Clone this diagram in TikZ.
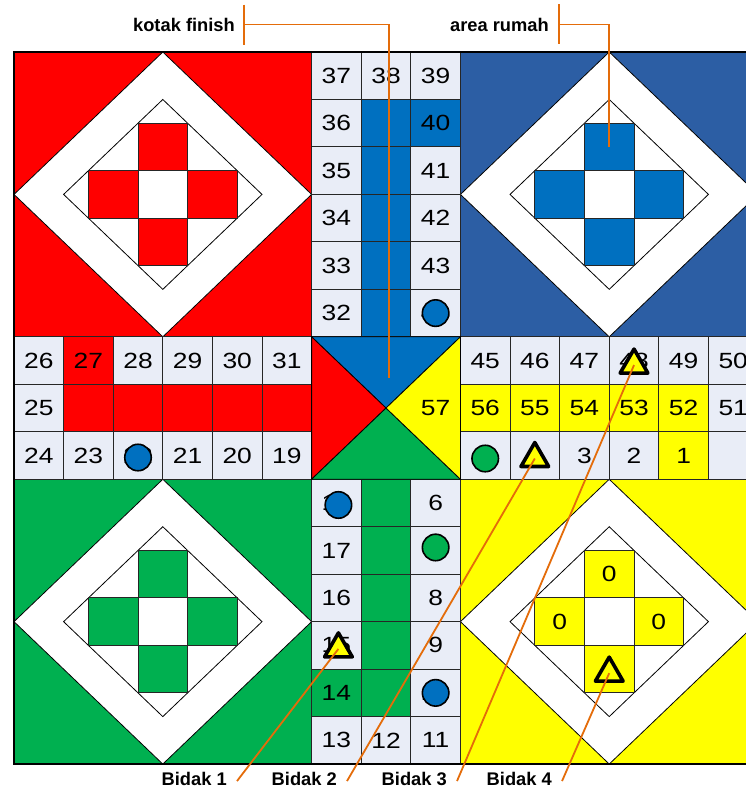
\documentclass[tikz,border=0pt]{standalone}
\usepackage{fontspec}
\setmainfont{Liberation Sans}
\newfontfamily\numfont[FakeStretch=1.2]{Liberation Sans}
\usetikzlibrary{shapes.geometric,calc}

\definecolor{redH}{RGB}{255,0,0}
\definecolor{blueH}{RGB}{44,94,164}
\definecolor{blueC}{RGB}{0,112,192}
\definecolor{greenH}{RGB}{0,176,80}
\definecolor{yellowH}{RGB}{255,255,0}
\definecolor{trackbg}{RGB}{233,237,247}
\definecolor{callorange}{RGB}{228,108,10}

\begin{document}
\begin{tikzpicture}[
  x=49.6pt, y=-47.47pt,
  cell/.style={rectangle,draw=black!85,line width=0.9pt,fill=trackbg,
               minimum width=49.6pt,minimum height=47.47pt,inner sep=0pt,
               font=\numfont\fontsize{22}{22}\selectfont},
  armsq/.style={cell,fill=white},
  numtxt/.style={inner sep=0pt,font=\numfont\fontsize{22}{22}\selectfont},
  lbl/.style={inner sep=0pt,anchor=east,font=\bfseries\fontsize{18.3}{18.3}\selectfont},
  tokc/.style={circle,draw=black,line width=1.6pt,minimum size=26.5pt,inner sep=0pt},
  tokt/.style={regular polygon,regular polygon sides=3,draw=black,line width=3.6pt,
               line join=round,fill=yellowH,minimum size=32pt,inner sep=0pt},
  callout/.style={draw=callorange,line width=1.8pt},
  diam/.style={draw=black,line width=0.8pt,fill=white},
]
\useasboundingbox (-0.2823,-1.0954) rectangle (14.738,15.504);

% home areas
\foreach \ox/\oy/\bg/\arm in {0/0/redH/redH,9/0/blueH/blueC,0/9/greenH/greenH,9/9/yellowH/yellowH}{
  \draw[draw=black!85,line width=0.9pt,fill=\bg] (\ox,\oy) rectangle ++(6,6);
  \draw[diam] (\ox+3,\oy) -- (\ox+6,\oy+3) -- (\ox+3,\oy+6) -- (\ox,\oy+3) -- cycle;
  \draw[diam] (\ox+3,\oy+1) -- (\ox+5,\oy+3) -- (\ox+3,\oy+5) -- (\ox+1,\oy+3) -- cycle;
  \node[armsq,fill=\arm] (home\ox-\oy-t) at (\ox+3,\oy+2) {};
  \node[armsq,fill=\arm] (home\ox-\oy-l) at (\ox+2,\oy+3) {};
  \node[armsq,fill=\arm] (home\ox-\oy-r) at (\ox+4,\oy+3) {};
  \node[armsq,fill=\arm] (home\ox-\oy-b) at (\ox+3,\oy+4) {};
  \node[armsq] (home\ox-\oy-c) at (\ox+3,\oy+3) {};
}

% track cells
\foreach \c/\r/\t in {6/0/37,6/1/36,6/2/35,6/3/34,6/4/33,6/5/32,7/0/38,8/0/39,8/2/41,8/3/42,8/4/43,8/5/44,
    0/6/26,2/6/28,3/6/29,4/6/30,5/6/31,0/7/25,0/8/24,1/8/23,2/8/22,3/8/21,4/8/20,5/8/19,
    9/6/45,10/6/46,11/6/47,12/6/48,13/6/49,14/6/50,14/7/51,9/8/5,10/8/4,11/8/3,12/8/2,14/8/{},
    6/9/18,6/10/17,6/11/16,6/12/15,6/14/13,7/14/12,8/9/6,8/10/7,8/11/8,8/12/9,8/13/10,8/14/11}
  \node[cell] (cell-\c-\r) at (\c+0.5,\r+0.5) {\t};
\foreach \c/\r/\t in {7/1/{},7/2/{},7/3/{},7/4/{},7/5/{},8/1/40}
  \node[cell,fill=blueC] (cell-\c-\r) at (\c+0.5,\r+0.5) {\t};
\foreach \c/\r/\t in {1/6/27,1/7/{},2/7/{},3/7/{},4/7/{},5/7/{}}
  \node[cell,fill=redH] (cell-\c-\r) at (\c+0.5,\r+0.5) {\t};
\foreach \c/\r/\t in {9/7/56,10/7/55,11/7/54,12/7/53,13/7/52,13/8/1}
  \node[cell,fill=yellowH] (cell-\c-\r) at (\c+0.5,\r+0.5) {\t};
\foreach \c/\r/\t in {6/13/14,7/9/{},7/10/{},7/11/{},7/12/{},7/13/{}}
  \node[cell,fill=greenH] (cell-\c-\r) at (\c+0.5,\r+0.5) {\t};

% centre
\draw[diam,fill=blueC] (6,6) -- (9,6) -- (7.5,7.5) -- cycle;
\draw[diam,fill=redH] (6,6) -- (6,9) -- (7.5,7.5) -- cycle;
\draw[diam,fill=greenH] (6,9) -- (9,9) -- (7.5,7.5) -- cycle;
\draw[diam,fill=yellowH] (9,6) -- (9,9) -- (7.5,7.5) -- cycle;
\node[numtxt] (fin57) at (8.5,7.5) {57};

\node[numtxt] (zero-t) at (home9-9-t) {0};
\node[numtxt] (zero-l) at (home9-9-l) {0};
\node[numtxt] (zero-r) at (home9-9-r) {0};

% tokens
\node[tokc,fill=blueC] (tok44) at (8.5,5.5) {};
\node[tokc,fill=blueC,yshift=-2pt] (tok22) at (2.5,8.5) {};
\node[tokc,fill=greenH,yshift=-3pt] (tok5) at (9.5,8.5) {};
\node[tokt,yshift=-3pt] (tok4) at (10.5,8.5) {};
\node[tokt,yshift=-4.5pt] (tok48) at (12.5,6.5) {};
\node[tokc,fill=blueC,xshift=2pt,yshift=-2pt] (tok18) at (6.5,9.5) {};
\node[tokc,fill=greenH,yshift=3pt] (tok7) at (8.5,10.5) {};
\node[tokt,xshift=2pt,yshift=-3.5pt] (tok15) at (6.5,12.5) {};
\node[tokc,fill=blueC] (tok10) at (8.5,13.5) {};
\node[tokt,yshift=-4pt] (tokhome) at (home9-9-b) {};

\draw[line width=1.2pt] (0,0) rectangle (15,15);

% labels
\node[lbl] (lblfinish) at (4.456,-0.579) {kotak finish};
\node[lbl] (lblrumah) at (10.786,-0.58) {area rumah};
\node[lbl] (bidak1) at (4.294,15.305) {Bidak 1};
\node[lbl] (bidak2) at (6.512,15.305) {Bidak 2};
\node[lbl] (bidak3) at (8.73,15.305) {Bidak 3};
\node[lbl] (bidak4) at (10.847,15.305) {Bidak 4};

\coordinate (finishbar) at ([xshift=9pt]lblfinish.east);
\coordinate (rumahbar) at ([xshift=10pt]lblrumah.east);
\coordinate (finishtip) at (7.56,6.87);
\draw[callout] ([yshift=20pt]finishbar) -- ([yshift=-20pt]finishbar);
\draw[callout] (finishbar) -| (finishtip);
\draw[callout] ([yshift=20pt]rumahbar) -- ([yshift=-20pt]rumahbar);
\draw[callout] (rumahbar) -| (home9-0-t.center);
\draw[callout] ([shift={(10pt,-2.5pt)}]bidak1.east) -- (tok15.center);
\draw[callout] ([shift={(10pt,-2.5pt)}]bidak2.east) -- (tok4.center);
\draw[callout] ([shift={(10pt,-2.5pt)}]bidak3.east) -- (tok48.center);
\draw[callout] ([shift={(10pt,-2.5pt)}]bidak4.east) -- (tokhome.center);
\end{tikzpicture}
\end{document}
